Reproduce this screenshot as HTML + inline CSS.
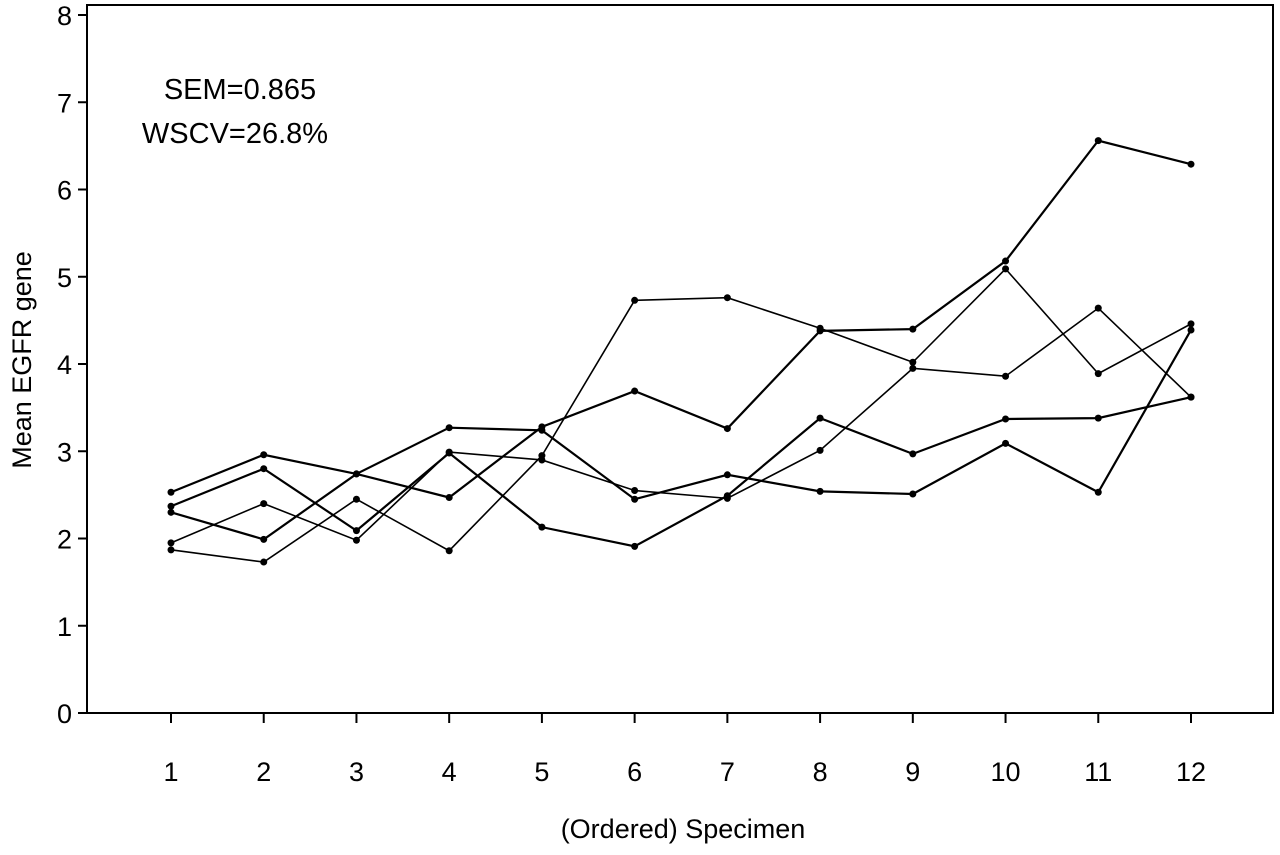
<!DOCTYPE html>
<html><head><meta charset="utf-8"><style>
body{margin:0;background:#fff;}
svg text{font-family:"Liberation Sans",Arial,sans-serif;fill:#000;}
</style></head><body>
<svg id="chart" width="1280" height="850" xmlns="http://www.w3.org/2000/svg">
<rect x="87" y="5" width="1186" height="708" fill="none" stroke="#000" stroke-width="2"/>
<g id="axes"></g>
<g id="series"></g>
<text x="240" y="99" font-size="29" text-anchor="middle">SEM=0.865</text>
<text x="235" y="143" font-size="29" text-anchor="middle">WSCV=26.8%</text>
<text transform="translate(31,360) rotate(-90)" font-size="27" text-anchor="middle">Mean EGFR gene</text>
<text x="683" y="838" font-size="27" text-anchor="middle">(Ordered) Specimen</text>
</svg>
<script>
const categories = [1,2,3,4,5,6,7,8,9,10,11,12];
const yTicks = [0,1,2,3,4,5,6,7,8];
const series1 = [2.53,2.96,2.74,2.47,3.28,3.69,3.26,4.38,4.40,5.18,6.56,6.29];
const series2 = [1.87,1.73,2.45,1.86,2.95,4.73,4.76,4.41,4.02,5.09,3.89,4.46];
const series3 = [1.95,2.40,1.98,2.99,2.90,2.55,2.46,3.01,3.95,3.86,4.64,3.62];
const series4 = [2.37,2.80,2.09,2.98,2.13,1.91,2.49,3.38,2.97,3.37,3.38,3.62];
const series5 = [2.30,1.99,2.74,3.27,3.24,2.45,2.73,2.54,2.51,3.09,2.53,4.39];
const NS='http://www.w3.org/2000/svg';
function xs(c){return 171+(c-1)*(1191-171)/11;}
function ys(v){return 713-v*87.25;}
const axes=document.getElementById('axes');
yTicks.forEach(t=>{
  const l=document.createElementNS(NS,'line');
  
  
  l.setAttribute('x1',78);l.setAttribute('x2',87);l.setAttribute('y1',ys(t));l.setAttribute('y2',ys(t));
  l.setAttribute('stroke','#000');l.setAttribute('stroke-width',2);axes.appendChild(l);
  const tx=document.createElementNS(NS,'text');
  
  
  tx.setAttribute('x',72);tx.setAttribute('y',ys(t)+10);tx.setAttribute('font-size',27);tx.setAttribute('text-anchor','end');
  tx.textContent=t;axes.appendChild(tx);
});
categories.forEach(c=>{
  const l=document.createElementNS(NS,'line');
  
  
  l.setAttribute('x1',xs(c));l.setAttribute('x2',xs(c));l.setAttribute('y1',713);l.setAttribute('y2',723);
  l.setAttribute('stroke','#000');l.setAttribute('stroke-width',2);axes.appendChild(l);
  const tx=document.createElementNS(NS,'text');
  
  
  tx.setAttribute('x',xs(c));tx.setAttribute('y',781);tx.setAttribute('font-size',27);tx.setAttribute('text-anchor','middle');
  tx.textContent=c;axes.appendChild(tx);
});
const sg=document.getElementById('series');
[series1,series2,series3,series4,series5].forEach((s,i)=>{
  const p=document.createElementNS(NS,'polyline');
  
  
  p.setAttribute('points',s.map((v,j)=>xs(categories[j])+','+ys(v)).join(' '));
  p.setAttribute('fill','none');p.setAttribute('stroke','#000');p.setAttribute('stroke-width',(i===1||i===2)?1.6:2.2);
  sg.appendChild(p);
  s.forEach((v,j)=>{
    const c=document.createElementNS(NS,'circle');
    
    
    c.setAttribute('cx',xs(categories[j]));c.setAttribute('cy',ys(v));c.setAttribute('r',3.5);c.setAttribute('fill','#000');
    sg.appendChild(c);
  });
});
</script>
</body></html>
